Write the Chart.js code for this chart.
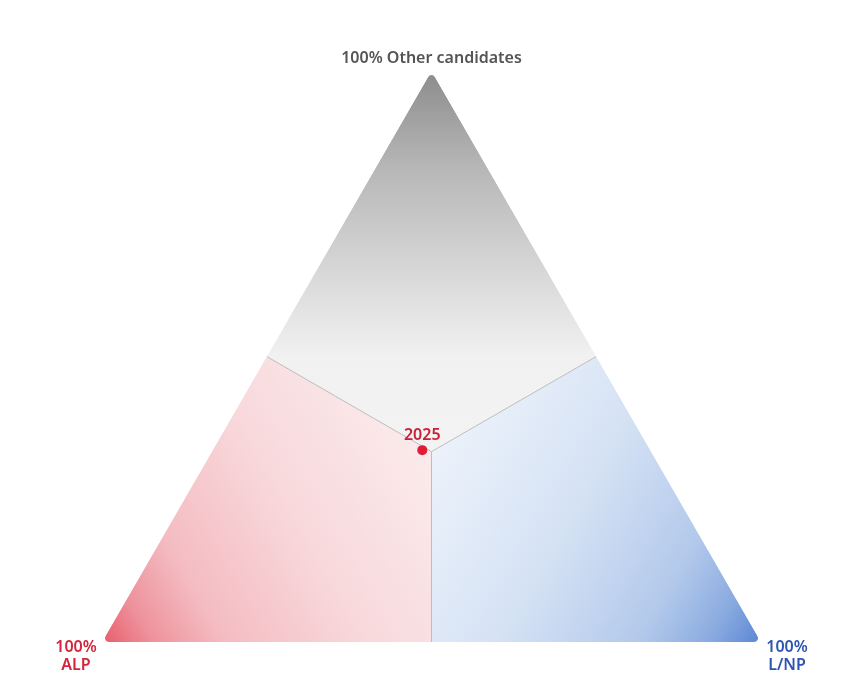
<!DOCTYPE html>
<html>
<head>
<meta charset="utf-8">
<script src="https://cdn.jsdelivr.net/npm/chart.js@4.4.1/dist/chart.umd.min.js"></script>
<style>
  html, body { margin: 0; padding: 0; background: #fff; }
  #wrap { width: 867px; height: 693px; }
</style>
</head>
<body>
<div id="wrap"><canvas id="tri" width="867" height="693"></canvas></div>
<script>
// primary vote shares (%), one entry per election
const years = ['2025'];
const alpVote = [34.6];
const lnpVote = [31.8];
const otherVote = [33.6];

// corner labels
const cornerLabels = ['100% Other candidates', ['100%', 'ALP'], ['100%', 'L/NP']];

const H = Math.sqrt(3) / 2;

// ternary -> cartesian (ALP bottom-left, L/NP bottom-right, Others top)
const puntos = years.map((y, i) => {
  const tot = alpVote[i] + lnpVote[i] + otherVote[i];
  const l = lnpVote[i] / tot, o = otherVote[i] / tot;
  return { x: l + o / 2, y: o * H, label: y };
});

const fondoTriangulo = {
  id: 'fondoTriangulo',
  beforeDatasetsDraw(chart) {
    const ctx = chart.ctx;
    const sx = chart.scales.x, sy = chart.scales.y;
    const p = (x, y) => [sx.getPixelForValue(x), sy.getPixelForValue(y)];
    const A = p(0, 0), L = p(1, 0), O = p(0.5, H);
    const C = p(0.5, H / 3);
    const mAL = p(0.5, 0), mAO = p(0.25, H / 2), mLO = p(0.75, H / 2);

    ctx.save();
    // rounded triangle clip
    const r = 4;
    ctx.beginPath();
    ctx.moveTo(mAL[0], mAL[1]);
    ctx.arcTo(L[0], L[1], O[0], O[1], r);
    ctx.arcTo(O[0], O[1], A[0], A[1], r);
    ctx.arcTo(A[0], A[1], L[0], L[1], r);
    ctx.closePath();
    ctx.clip();

    // others (top)
    let g = ctx.createLinearGradient(0, O[1], 0, C[1]);
    g.addColorStop(0, '#8c8c8c');
    g.addColorStop(0.25, '#b6b6b6');
    g.addColorStop(0.55, '#dadada');
    g.addColorStop(0.75, '#f1f1f1');
    g.addColorStop(1, '#f3f3f3');
    ctx.fillStyle = g;
    ctx.beginPath();
    ctx.moveTo(O[0], O[1]); ctx.lineTo(mLO[0], mLO[1]); ctx.lineTo(C[0], C[1]); ctx.lineTo(mAO[0], mAO[1]);
    ctx.closePath(); ctx.fill();

    // ALP (bottom-left)
    g = ctx.createLinearGradient(A[0], A[1], C[0], C[1]);
    g.addColorStop(0, '#e75d6b');
    g.addColorStop(0.12, '#ee939d');
    g.addColorStop(0.28, '#f4bcc2');
    g.addColorStop(0.6, '#f8d8db');
    g.addColorStop(1, '#fbebec');
    ctx.fillStyle = g;
    ctx.beginPath();
    ctx.moveTo(A[0], A[1]); ctx.lineTo(mAL[0], mAL[1]); ctx.lineTo(C[0], C[1]); ctx.lineTo(mAO[0], mAO[1]);
    ctx.closePath(); ctx.fill();

    // L/NP (bottom-right)
    g = ctx.createLinearGradient(L[0], L[1], C[0], C[1]);
    g.addColorStop(0, '#5a86d4');
    g.addColorStop(0.12, '#8aabe0');
    g.addColorStop(0.28, '#b3c9eb');
    g.addColorStop(0.6, '#d5e2f4');
    g.addColorStop(1, '#ecf2fb');
    ctx.fillStyle = g;
    ctx.beginPath();
    ctx.moveTo(L[0], L[1]); ctx.lineTo(mLO[0], mLO[1]); ctx.lineTo(C[0], C[1]); ctx.lineTo(mAL[0], mAL[1]);
    ctx.closePath(); ctx.fill();

    // dividers
    ctx.strokeStyle = '#bdbdbd';
    ctx.lineWidth = 1;
    ctx.beginPath();
    [mAL, mAO, mLO].forEach(m => { ctx.moveTo(C[0], C[1]); ctx.lineTo(m[0], m[1]); });
    ctx.stroke();
    ctx.restore();

    // corner labels
    ctx.save();
    ctx.font = '600 16px "Noto Sans"';
    ctx.textAlign = 'center';
    ctx.textBaseline = 'alphabetic';
    ctx.fillStyle = '#555555';
    ctx.fillText(cornerLabels[0], O[0], O[1] - 8);
    ctx.fillStyle = '#d3263b';
    ctx.fillText(cornerLabels[1][0], A[0] - 26, A[1] + 10);
    ctx.fillText(cornerLabels[1][1], A[0] - 26, A[1] + 28);
    ctx.fillStyle = '#2f55b2';
    ctx.fillText(cornerLabels[2][0], L[0] + 26, L[1] + 10);
    ctx.fillText(cornerLabels[2][1], L[0] + 26, L[1] + 28);
    ctx.restore();
  },
  afterDatasetsDraw(chart) {
    const ctx = chart.ctx;
    const meta = chart.getDatasetMeta(0);
    ctx.save();
    ctx.font = '600 16px "Noto Sans"';
    ctx.textAlign = 'center';
    ctx.fillStyle = '#c91f37';
    meta.data.forEach((pt, i) => {
      ctx.fillText(puntos[i].label, pt.x, pt.y - 10);
    });
    ctx.restore();
  }
};

new Chart(document.getElementById('tri'), {
  type: 'scatter',
  data: {
    datasets: [{
      label: 'Primary vote',
      data: puntos,
      backgroundColor: '#e01f36',
      borderWidth: 0,
      pointRadius: 5,
      pointHoverRadius: 5
    }]
  },
  options: {
    responsive: false,
    animation: false,
    layout: { padding: { left: 102, right: 106, top: 71, bottom: 51 } },
    scales: {
      x: { type: 'linear', min: 0, max: 1, display: false },
      y: { type: 'linear', min: 0, max: H, display: false }
    },
    plugins: {
      legend: { display: false },
      tooltip: { enabled: false }
    }
  },
  plugins: [fondoTriangulo]
});
</script>
</body>
</html>
